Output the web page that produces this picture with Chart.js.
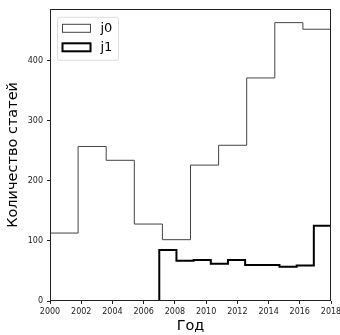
<!DOCTYPE html>
<html>
<head>
<meta charset="utf-8">
<script src="https://cdn.jsdelivr.net/npm/chart.js@4/dist/chart.umd.min.js"></script>
<style>
  html, body { margin: 0; padding: 0; background: #fff; }
  #wrap { width: 340px; height: 335px; }
</style>
</head>
<body>
<div id="wrap"><canvas id="histChart" width="340" height="335"></canvas></div>
<script>
// histogram bins (edges) and counts per journal
const j0Edges = [2000, 2001.8, 2003.6, 2005.4, 2007.2, 2009, 2010.8, 2012.6, 2014.4, 2016.2, 2018];
const j0Counts = [113, 257, 234, 128, 102, 226, 259, 371, 463, 452];
const j1Edges = [2007, 2008.1, 2009.2, 2010.3, 2011.4, 2012.5, 2013.6, 2014.7, 2015.8, 2016.9, 2018];
const j1Counts = [85, 67, 68, 62, 68, 60, 60, 57, 59, 125];
const seriesNames = ['j0', 'j1'];
const xTicks = [2000, 2002, 2004, 2006, 2008, 2010, 2012, 2014, 2016, 2018];
const yTicks = [0, 100, 200, 300, 400];

const FONT = "'DejaVu Sans', sans-serif";

// outline of a step histogram: up from zero, across each bin, back down
function stepOutline(edges, counts) {
  const pts = [{ x: edges[0], y: 0 }];
  counts.forEach((c, i) => pts.push({ x: edges[i], y: c }));
  pts.push({ x: edges[edges.length - 1], y: 0 });
  return pts;
}

// box around the plot
const frame = {
  id: 'frame',
  afterDatasetsDraw(chart) {
    const a = chart.chartArea;
    const ctx = chart.ctx;
    ctx.save();
    ctx.strokeStyle = '#222';
    ctx.lineWidth = 1;
    ctx.strokeRect(Math.round(a.left) + 0.5, Math.round(a.top) + 0.5,
      Math.round(a.right - a.left) - 1, Math.round(a.bottom - a.top) - 1);
    ctx.restore();
  }
};

// legend box in the upper-left corner of the plot
const boxLegend = {
  id: 'boxLegend',
  afterDraw(chart) {
    const a = chart.chartArea;
    const ctx = chart.ctx;
    const x0 = a.left + 7.5, y0 = a.top + 8.5, w = 61, h = 43;
    ctx.save();
    ctx.fillStyle = 'rgba(255,255,255,0.8)';
    ctx.strokeStyle = '#dcdcdc';
    ctx.lineWidth = 1;
    ctx.beginPath();
    ctx.roundRect(x0, y0, w, h, 2);
    ctx.fill();
    ctx.stroke();
    chart.data.datasets.forEach((ds, i) => {
      const py = y0 + 7 + i * 19;
      ctx.fillStyle = '#fff';
      ctx.fillRect(x0 + 5, py, 28, 8);
      ctx.strokeStyle = ds.borderColor;
      ctx.lineWidth = ds.borderWidth;
      ctx.strokeRect(x0 + 5, py, 28, 8);
      ctx.fillStyle = '#000';
      ctx.font = '13px ' + FONT;
      ctx.textBaseline = 'middle';
      ctx.fillText(ds.label, x0 + 43, py + 4);
    });
    ctx.restore();
  }
};

new Chart(document.getElementById('histChart'), {
  type: 'line',
  data: {
    datasets: [
      {
        label: seriesNames[0],
        data: stepOutline(j0Edges, j0Counts),
        stepped: 'before',
        borderColor: '#444',
        borderWidth: 1,
        backgroundColor: 'transparent',
        pointRadius: 0,
        fill: false
      },
      {
        label: seriesNames[1],
        data: stepOutline(j1Edges, j1Counts),
        stepped: 'before',
        borderColor: '#000',
        borderWidth: 2,
        backgroundColor: 'transparent',
        pointRadius: 0,
        fill: false
      }
    ]
  },
  options: {
    responsive: false,
    animation: false,
    devicePixelRatio: 1,
    layout: { padding: { top: 7, right: 9, left: 0, bottom: 0 } },
    plugins: {
      legend: { display: false },
      tooltip: { enabled: false }
    },
    scales: {
      x: {
        type: 'linear',
        min: 2000,
        max: 2018,
        afterBuildTicks: (s) => { s.ticks = xTicks.map(v => ({ value: v })); },
        afterFit: (s) => { s.height = 34; s.paddingLeft = 0; s.paddingRight = 0; },
        border: { display: false },
        grid: { drawOnChartArea: false, drawTicks: true, tickLength: 3, tickColor: '#222' },
        ticks: {
          padding: 3,
          maxRotation: 0,
          autoSkip: false,
          color: '#222',
          font: { family: FONT, size: 8 },
          callback: (v) => String(v)
        },
        title: {
          display: true,
          text: 'Год',
          color: '#000',
          padding: { top: 0, bottom: 0 },
          font: { family: FONT, size: 14.5 }
        }
      },
      y: {
        min: 0,
        max: 486,
        afterBuildTicks: (s) => { s.ticks = yTicks.map(v => ({ value: v })); },
        afterFit: (s) => { s.width = 50; },
        border: { display: false },
        grid: { drawOnChartArea: false, drawTicks: true, tickLength: 3, tickColor: '#222' },
        ticks: {
          padding: 4,
          color: '#222',
          font: { family: FONT, size: 8 }
        },
        title: {
          display: true,
          text: 'Количество статей',
          color: '#000',
          padding: { top: 4.5, bottom: 0 },
          font: { family: FONT, size: 14.5 }
        }
      }
    }
  },
  plugins: [frame, boxLegend]
});
</script>
</body>
</html>
